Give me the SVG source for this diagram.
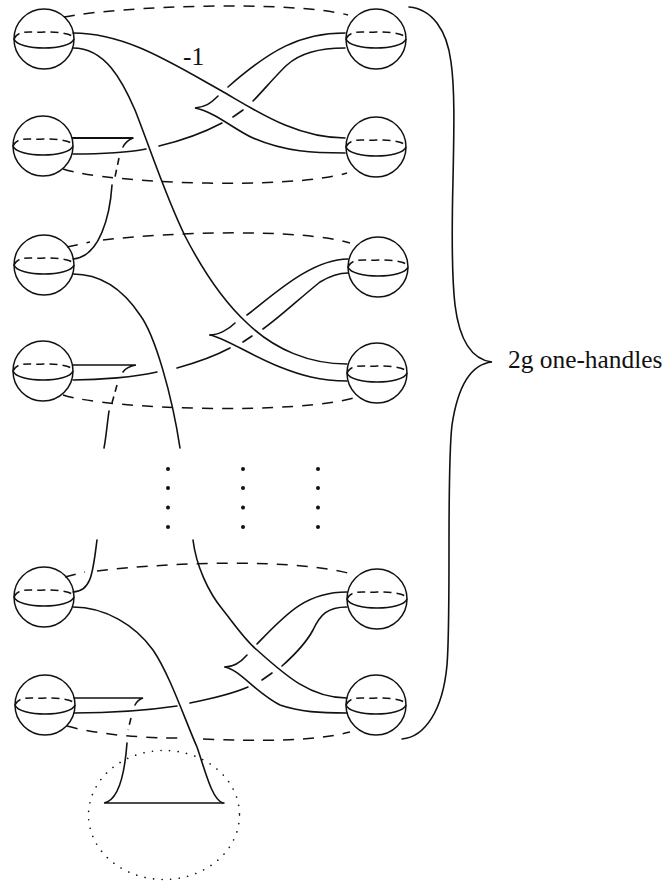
<svg xmlns="http://www.w3.org/2000/svg" width="665" height="882" viewBox="0 0 665 882">
<style>
.l{fill:none;stroke:#111;stroke-width:1.6;stroke-linecap:round}
.h{fill:none;stroke:#111;stroke-width:2.2}
.d{fill:none;stroke:#111;stroke-width:1.5;stroke-dasharray:11 9}
.b{fill:none;stroke:#111;stroke-width:1.5;stroke-dasharray:8 5}
.k{fill:none;stroke:#111;stroke-width:1.6;stroke-dasharray:7 5}
.s{fill:none;stroke:#111;stroke-width:1.5}
.t{font-family:"Liberation Serif",serif;font-size:25.400px;fill:#111}
</style>
<defs>
<g id="ball">
<circle r="30" class="s"/>
<path d="M-30,0C-26,12 26,12 30,0" class="s"/>
<path d="M-30,0C-26,-10 -12,-6 0,-7C12,-7 24,-6 28,-3" class="b"/>
</g>
</defs>
<g id="n1"><use href="#ball" x="44" y="39"/></g>
<g id="n2"><use href="#ball" x="43" y="146"/></g>
<g id="n3"><use href="#ball" x="44" y="265"/></g>
<g id="n4"><use href="#ball" x="43" y="371"/></g>
<g id="n5"><use href="#ball" x="44" y="597"/></g>
<g id="n6"><use href="#ball" x="45" y="705"/></g>
<g id="n7"><use href="#ball" x="376" y="39"/></g>
<g id="n8"><use href="#ball" x="376" y="147"/></g>
<g id="n9"><use href="#ball" x="378" y="267"/></g>
<g id="n10"><use href="#ball" x="377" y="373"/></g>
<g id="n11"><use href="#ball" x="377" y="599"/></g>
<g id="n12"><use href="#ball" x="376" y="705"/></g>
<g id="connectors">
<path class="d" d="M64,17C120,6 290,0 348,15"/>
<path class="d" d="M63,169C110,184 290,190 347,173"/>
<path class="d" d="M67,247L90,242M103,240C170,232 300,228 350,243"/>
<path class="d" d="M63,395C110,410 300,415 357,397"/>
<path class="d" d="M65,577L85,572M97,571C170,562 300,558 355,575"/>
<path class="d" d="M67,726C110,738 170,738 178,738M203,739C260,741 310,742 350,732"/>

<path class="l" d="M73,33C125,33 170,62 220,90C255,110 295,138 345,138"/>
<path class="l" d="M73,48C105,48 122,80 135,110C150,148 165,195 185,236C200,265 222,300 247,323C275,350 310,364 347,364"/>
<path class="l" d="M218,96C210,104 205,107 195,108C215,112 235,130 253,138C285,152 315,153 345,153"/>
<path class="l" d="M228,87C270,50 300,33 345,33"/>
<path class="l" d="M73,154C100,154 125,153 146,149M159,146C180,141 205,132 222,123M233,117L243,110M253,101C262,92 278,73 287,65C300,53 318,48 345,48"/>
<path class="h" d="M72,138H133"/>
<path class="l" d="M133,138C128,140 125,143 123,147"/>
<path class="k" d="M119,158L115,177"/>
<path class="l" d="M112,185C110,215 100,257 73,259"/>

<path class="l" d="M73,274C100,274 122,288 140,315C155,335 172,395 180,448"/>
<path class="l" d="M210,335C218,335 228,330 235,323M247,315C270,298 310,259 348,259"/>
<path class="l" d="M210,335C225,338 250,355 280,367C300,375 320,381 347,381"/>
<path class="l" d="M73,380C100,380 135,377 157,372M177,368C195,363 215,356 230,348M243,342L252,336M263,329C280,317 300,298 320,282C330,276 340,273 348,273"/>
<path class="l" d="M73,365H136C130,366 125,369 123,372"/>
<path class="k" d="M117,385L112,403"/>
<path class="l" d="M109,411C107,425 106,438 104,448"/>

<path class="l" d="M97,540C93,570 92,592 73,592"/>
<path class="l" d="M73,607C105,607 135,625 153,650C170,675 185,720 197,747C205,770 212,800 223,803"/>
<path class="l" d="M193,540C196,565 208,592 223,610C235,625 245,640 257,650C285,675 310,698 347,698"/>
<path class="l" d="M225,667C233,667 241,662 247,655M257,644C285,615 305,592 347,592"/>
<path class="l" d="M225,667C240,670 255,692 280,705C300,712 320,713 347,713"/>
<path class="l" d="M74,713C110,713 150,710 177,706M190,703C210,699 232,694 248,687M262,680L272,673M282,666C291,658 305,645 313,630C320,615 327,607 347,607"/>
<path class="l" d="M74,698H143C140,699 137,701 135,705"/>
<path class="k" d="M131,718L128,730"/>
<path class="l" d="M127,743C125,770 120,800 104,803H224"/>
<ellipse cx="164" cy="815" rx="75.500" ry="64.500" fill="none" stroke="#111" stroke-width="1.6" stroke-linecap="round" stroke-dasharray="0.1 8.500"/>
<path class="l" d="M409,7C432,9 447,30 451,62C455,90 454,130 453,180C452,220 451,270 455,305C460,345 475,360 492,362C472,364 458,385 452,425C449,450 449,500 449,550C449,600 449,640 447,665C443,710 425,737 402,739"/>
</g>
<g id="dots" fill="#111">
<circle cx="168" cy="469" r="2"/><circle cx="168" cy="488" r="2"/><circle cx="168" cy="507.500" r="2"/><circle cx="168" cy="527" r="2"/>
<circle cx="243" cy="469" r="2"/><circle cx="243" cy="488" r="2"/><circle cx="243" cy="507.500" r="2"/><circle cx="243" cy="527" r="2"/>
<circle cx="318" cy="469" r="2"/><circle cx="318" cy="488" r="2"/><circle cx="318" cy="507.500" r="2"/><circle cx="318" cy="527" r="2"/>
</g>
<text class="t" x="183" y="65">-1</text>
<text class="t" x="508" y="368">2g one-handles</text>
</svg>
